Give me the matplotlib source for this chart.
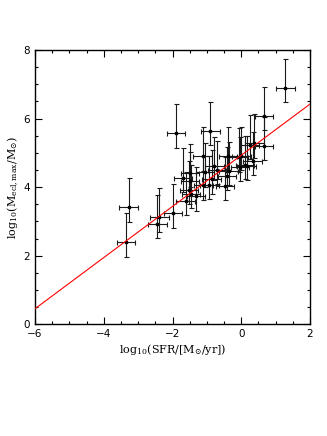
import matplotlib
matplotlib.use("Agg")
import matplotlib.pyplot as plt
import numpy as np
from matplotlib.ticker import MultipleLocator

# data
log_sfr = [-3.35, -3.28, -2.44, -2.38, -1.98, -1.90, -1.70, -1.62, -1.52, -1.49,
           -1.49, -1.46, -1.32, -1.12, -1.05, -1.10, -0.93, -0.90, -0.86, -0.78,
           -0.71, -0.47, -0.42, -0.39, -0.37, -0.08, -0.04, 0.00, 0.11, 0.16,
           0.25, 0.33, 0.38, 0.66, 0.66, 1.28]
log_mmax = [2.39, 3.41, 2.93, 3.12, 3.24, 5.57, 4.28, 3.60, 3.92, 4.41,
            4.17, 3.80, 3.73, 4.90, 4.43, 4.05, 4.07, 5.64, 4.23, 4.62,
            4.50, 4.04, 4.33, 4.91, 4.48, 4.87, 4.60, 4.91, 4.65, 4.63,
            5.24, 4.77, 5.28, 6.08, 5.21, 6.89]
xerr_val = [0.27] * len(log_sfr)
yerr_low = [0.42] * len(log_sfr)
yerr_up = [0.85] * len(log_sfr)

fit_slope = 0.746
fit_intercept = 4.93

plt.rcParams['mathtext.fontset'] = 'dejavuserif'

fig = plt.figure(figsize=(3.27, 4.36), dpi=100)
ax = fig.add_axes([35/327, (436-324.3)/436, 275/327, 274.3/436])

ax.errorbar(log_sfr, log_mmax, xerr=xerr_val, yerr=[yerr_low, yerr_up],
            fmt='s', ms=1.6, color='black', ecolor='0.1', elinewidth=0.8,
            capsize=1.8, capthick=0.8, zorder=3)

xl = np.array([-6, 2])
ax.plot(xl, fit_slope * xl + fit_intercept, color='red', lw=0.8, zorder=4)

ax.set_xlim(-6, 2)
ax.set_ylim(0, 8)
ax.xaxis.set_major_locator(MultipleLocator(2))
ax.xaxis.set_minor_locator(MultipleLocator(0.5))
ax.yaxis.set_major_locator(MultipleLocator(2))
ax.yaxis.set_minor_locator(MultipleLocator(0.5))
ax.tick_params(which='both', direction='in', top=True, right=True, width=0.8,
               labelsize=7.5)
ax.tick_params(which='major', length=5)
ax.tick_params(which='minor', length=2.5)
for s in ax.spines.values():
    s.set_linewidth(1.0)

ax.set_xlabel(r'$\mathrm{log_{10}(SFR/[M_{\odot}/yr])}$', fontsize=8, labelpad=2)
ax.set_ylabel(r'$\mathrm{log_{10}(M_{ecl,max}/M_{\odot})}$', fontsize=8, labelpad=2)

fig.savefig('out.png', dpi=100)
